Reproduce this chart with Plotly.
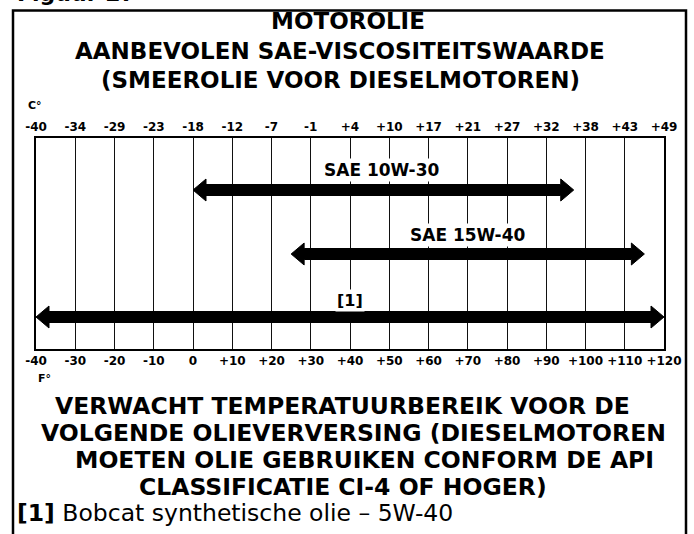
import plotly.graph_objects as go

# Temperature scale: Fahrenheit gridline positions and matching Celsius labels
fahrenheit_ticks = [-40, -30, -20, -10, 0, 10, 20, 30, 40, 50, 60, 70, 80, 90, 100, 110, 120]
fahrenheit_labels = ["-40", "-30", "-20", "-10", "0", "+10", "+20", "+30", "+40", "+50",
                     "+60", "+70", "+80", "+90", "+100", "+110", "+120"]
celsius_labels = ["-40", "-34", "-29", "-23", "-18", "-12", "-7", "-1", "+4", "+10",
                  "+17", "+21", "+27", "+32", "+38", "+43", "+49"]

# Oil grades and their recommended temperature ranges (degrees F)
grades = ["SAE 10W-30", "SAE 15W-40", "[1]"]
range_low = [0, 25, -40]
range_high = [97, 115, 120]

title_lines = ["MOTOROLIE", "AANBEVOLEN SAE-VISCOSITEITSWAARDE", "(SMEEROLIE VOOR DIESELMOTOREN)"]
note_lines = ["VERWACHT TEMPERATUURBEREIK VOOR DE",
              "VOLGENDE OLIEVERVERSING (DIESELMOTOREN",
              "MOETEN OLIE GEBRUIKEN CONFORM DE API",
              "CLASSIFICATIE CI-4 OF HOGER)"]
footnote = "<b>[1]</b> Bobcat synthetische olie \u2013 5W-40"

W, H = 694, 534
PLOT_L, PLOT_R, PLOT_T, PLOT_B = 36, 664, 138, 349
PX_PER_F = (PLOT_R - PLOT_L) / (fahrenheit_ticks[-1] - fahrenheit_ticks[0])

BOLD = "DejaVu Sans"
# vertical layout inside the plot (pixels from top of plot area)
arrow_rows = [52, 116, 179]
label_rows = [32, 97, 162]
label_x = [48, 70, 40]
SHAFT = 11.0
HEAD_H = 22.0
HEAD_L = 13.0 / PX_PER_F

fig = go.Figure()

for lo, hi, yc in zip(range_low, range_high, arrow_rows):
    s, h = SHAFT / 2, HEAD_H / 2
    xs = [lo, lo + HEAD_L, lo + HEAD_L, hi - HEAD_L, hi - HEAD_L, hi,
          hi - HEAD_L, hi - HEAD_L, lo + HEAD_L, lo + HEAD_L, lo]
    ys = [yc, yc - h, yc - s, yc - s, yc - h, yc,
          yc + h, yc + s, yc + s, yc + h, yc]
    fig.add_trace(go.Scatter(x=xs, y=ys, mode="lines", fill="toself",
                             fillcolor="black", line=dict(color="black", width=1),
                             hoverinfo="skip", showlegend=False))

# invisible trace to activate the top Celsius axis
fig.add_trace(go.Scatter(x=[fahrenheit_ticks[0], fahrenheit_ticks[-1]], y=[0, 0],
                         xaxis="x2", mode="lines", line=dict(width=0),
                         hoverinfo="skip", showlegend=False))

for name, xl, yl in zip(grades, label_x, label_rows):
    fig.add_annotation(x=xl, y=yl, xref="x", yref="y", text="<b>%s</b>" % name,
                       showarrow=False, bgcolor="white", borderpad=1,
                       xanchor="center", yanchor="middle",
                       font=dict(family=BOLD, size=17 if name != "[1]" else 16, color="black"))

axis_common = dict(range=[fahrenheit_ticks[0], fahrenheit_ticks[-1]],
                   domain=[PLOT_L / W, PLOT_R / W], tickmode="array",
                   tickvals=fahrenheit_ticks, ticks="", showline=True, linecolor="black",
                   linewidth=1.5, zeroline=False, fixedrange=True, automargin=False,
                   tickfont=dict(family=BOLD, size=12, color="black", weight="bold"))

fig.update_layout(
    template="none",
    width=W, height=H, margin=dict(l=0, r=0, t=0, b=0, pad=0), autosize=False,
    paper_bgcolor="white", plot_bgcolor="white",
    xaxis=dict(**axis_common, ticktext=fahrenheit_labels, side="bottom", mirror=True,
               showgrid=True, gridcolor="#111", gridwidth=1.3),
    xaxis2=dict(**axis_common, ticktext=celsius_labels, side="top", overlaying="x",
                anchor="y", showgrid=False),
    yaxis=dict(range=[PLOT_B - PLOT_T, 0], domain=[1 - PLOT_B / H, 1 - PLOT_T / H],
               showline=True, mirror=True, linecolor="black", linewidth=1.5,
               showgrid=False, zeroline=False, showticklabels=False, ticks="",
               fixedrange=True, automargin=False),
)

def px(xp):
    return xp / W

def py(yp):
    return 1 - yp / H

def paper_text(text, xc, yc, size, xanchor="center", yanchor="middle"):
    fig.add_annotation(x=px(xc), y=py(yc), xref="paper", yref="paper", text=text,
                       showarrow=False, xanchor=xanchor, yanchor=yanchor,
                       font=dict(family=BOLD, size=size, color="black"))

# outer frame
fig.add_shape(type="rect", xref="paper", yref="paper", x0=px(13), x1=px(686),
              y0=py(545), y1=py(10.5), line=dict(color="black", width=2.5), layer="above")

paper_text("<b>Figuur 27</b>", 15, 8, 22, xanchor="left", yanchor="bottom")

for txt, xc, yc in zip(title_lines, [348, 340, 340], [21, 51, 80]):
    paper_text("<b>%s</b>" % txt, xc, yc, 23)

for txt, xc, yc in zip(note_lines, [342, 353, 364, 343], [406, 433, 460, 487]):
    paper_text("<b>%s</b>" % txt, xc, yc, 23.5)

paper_text(footnote, 15, 513, 23.5, xanchor="left")

paper_text("<b>C°</b>", 35, 105, 11)
paper_text("<b>F°</b>", 44, 378, 11)

fig.write_html("out.html")
